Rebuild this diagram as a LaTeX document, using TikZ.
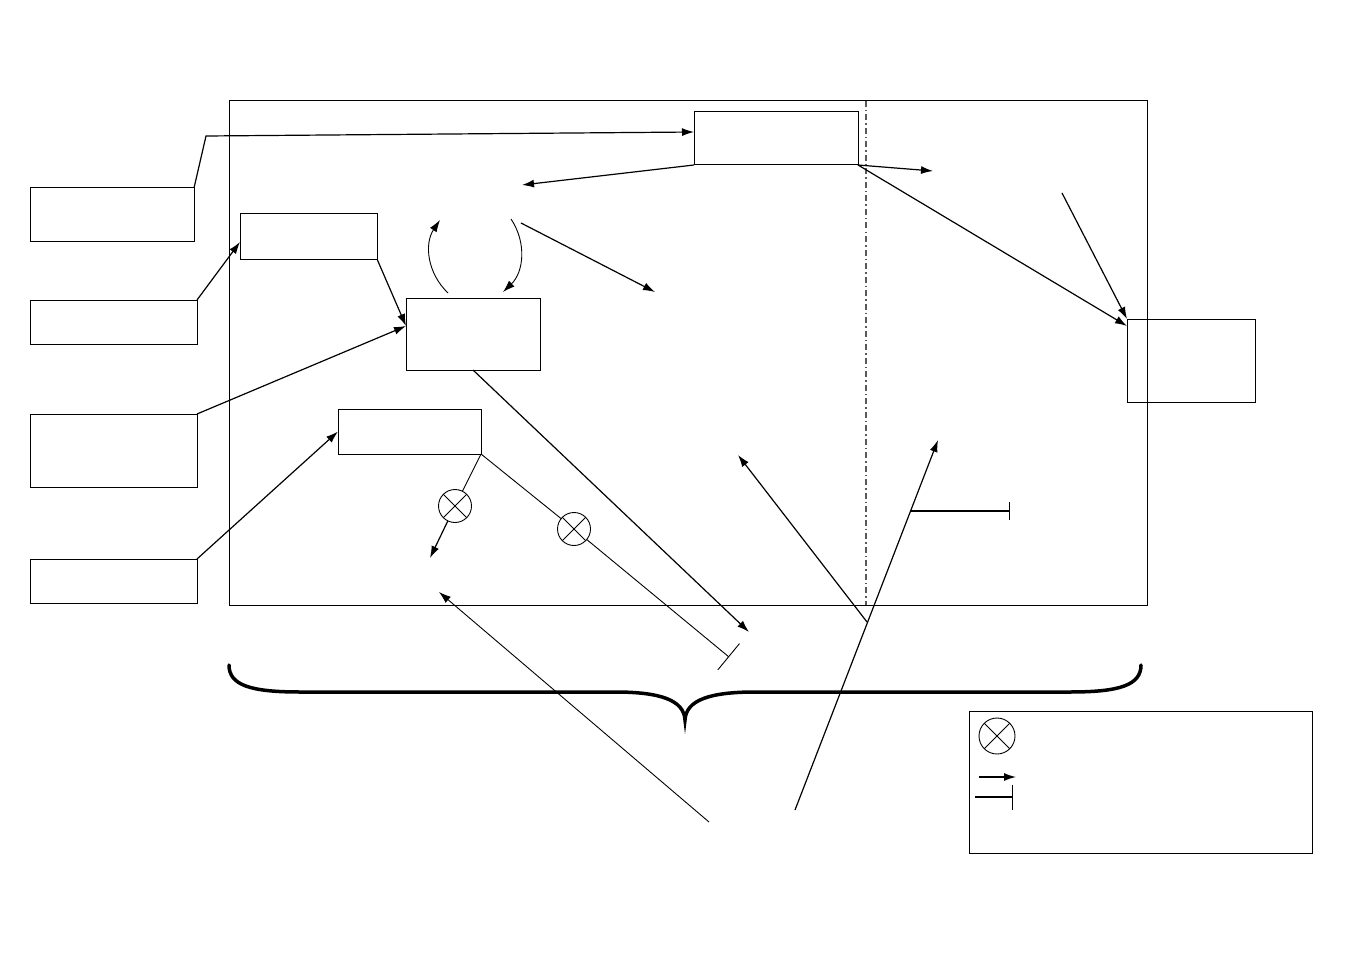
\documentclass[tikz,border=0pt]{standalone}
\usetikzlibrary{arrows.meta}

\begin{document}
\begin{tikzpicture}[
				x=1pt, y=-1pt,
				line width=1.2pt,
				box/.style={draw, rectangle, line width=1pt, inner sep=0pt, outer sep=0pt},
				arrow/.style={-{Latex[length=12pt,width=8pt]}},
				blocker/.style={-{Bar[width=#1]}},
				thin line/.style={line width=0.9pt},
				mult/.style={circle, draw, line width=0.9pt, minimum size=33pt, inner sep=0pt, outer sep=0pt,
					path picture={\draw[line width=0.9pt] (path picture bounding box.north west) -- (path picture bounding box.south east)
						(path picture bounding box.north east) -- (path picture bounding box.south west);}},
			]
				\useasboundingbox (0,0) rectangle (1357,960);
				
				% frame and boxes
				\node (frame) [box, minimum width=918pt, minimum height=504pt] at (688,353) {};
				\node (L1) [box, minimum width=164pt, minimum height=53pt] at (112,214.5) {};
				\node (L2) [box, minimum width=167pt, minimum height=44pt] at (113.5,322) {};
				\node (L3) [box, minimum width=167pt, minimum height=73pt] at (113.5,450.5) {};
				\node (L4) [box, minimum width=167pt, minimum height=44pt] at (113.5,581) {};
				\node (A) [box, minimum width=137pt, minimum height=45pt] at (308.5,236.5) {};
				\node (B) [box, minimum width=134pt, minimum height=72pt] at (473,334) {};
				\node (C) [box, minimum width=143pt, minimum height=45pt] at (409.5,431.5) {};
				\node (top) [box, minimum width=164pt, minimum height=53pt] at (776,138.5) {};
				\node (R) [box, minimum width=128pt, minimum height=83pt] at (1191,360.5) {};
				\node (legend) [box, minimum width=343pt, minimum height=142pt] at (1140.5,782) {};
				\node (m1) [mult] at (455,506) {};
				\node (m2) [mult] at (574,529) {};
				\node (m3) [mult, minimum height=36pt] at (997,736) {};
				
				% free ends
				\coordinate (bend) at (206,136);
				\coordinate (upL) at (448,293);
				\coordinate (upLend) at (440,220);
				\coordinate (dnR) at (511,219);
				\coordinate (dnRend) at (503,292);
				\coordinate (westend) at (522,185);
				\coordinate (diag) at (521,223);
				\coordinate (diagend) at (655,292);
				\coordinate (eastend) at (933,171);
				\coordinate (feed) at (1062,193);
				\coordinate (Bend) at (749,632);
				\coordinate (m1end) at (430,558);
				\coordinate (m2end) at (729,657);
				\coordinate (lowA) at (709,822);
				\coordinate (lowAend) at (439,592);
				\coordinate (lowB) at (795,810);
				\coordinate (lowBend) at (938,440);
				\coordinate (cross) at (867,622);
				\coordinate (crossend) at (738,455);
				\coordinate (tap) at (911,511);
				\coordinate (tapend) at (1010,511);
				\coordinate (keyA) at (979,777);
				\coordinate (keyAend) at (1016,777);
				\coordinate (keyB) at (975,797);
				\coordinate (keyBend) at (1013,797);
				
				% split line
				\draw[black!65, line width=1.3pt, dash pattern=on 6pt off 3pt on 1.5pt off 3pt] (frame.north -| 866,0) -- (frame.south -| 866,0);
				
				% connectors
				\draw[arrow] (L1.north east) -- (bend) -- ([yshift=6.5pt]top.west);
				\draw[arrow] (L2.north east) -- ([yshift=-5.5pt]A.west);
				\draw[arrow] (A.south east) -- ([yshift=8pt]B.west);
				\draw[arrow] (L3.north east) -- ([yshift=8pt]B.west);
				\draw[arrow] (L4.north east) -- (C.west);
				\draw[arrow, thin line] (upL) to[bend left=40] (upLend);
				\draw[arrow, thin line] (dnR) to[bend left=40] (dnRend);
				\draw[arrow] (top.south west) -- (westend);
				\draw[arrow] (diag) -- (diagend);
				\draw[arrow] (top.south east) -- (eastend);
				\draw[arrow] (top.south east) -- ([yshift=-7pt]R.north west);
				\draw[arrow] (feed) -- (R.north west);
				\draw[arrow] (B.south) -- (Bend);
				\draw[thin line] (C.south east) -- (m1);
				\draw[arrow] (m1) -- (m1end);
				\draw[thin line] (C.south east) -- (m2);
				\draw[thin line, blocker=34pt] (m2) -- (m2end);
				\draw[arrow, thin line] (lowA) -- (lowAend);
				\draw[arrow] (lowB) -- (lowBend);
				\draw[arrow] (cross) -- (crossend);
				\draw[blocker=18pt] (tap) -- (tapend);
				
				% brace
				\draw[line width=3.5pt, line cap=round] (229,665) .. controls (229,685) and (250,692) .. (300,692) -- (615,692)
					.. controls (660,692) and (684,700) .. (685,720) .. controls (686,700) and (710,692) .. (755,692) -- (1070,692)
					.. controls (1120,692) and (1141,685) .. (1141,665);
				
				% legend
				\draw[arrow] (keyA) -- (keyAend);
				\draw[blocker=25pt] (keyB) -- (keyBend);
			\end{tikzpicture}
\end{document}
